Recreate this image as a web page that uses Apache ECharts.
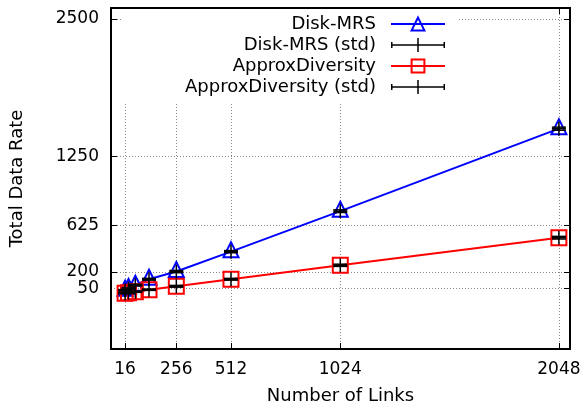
<!DOCTYPE html>
<html>
<head>
<meta charset="utf-8">
<script src="https://cdn.jsdelivr.net/npm/echarts@6/dist/echarts.min.js"></script>
<style>
  html, body { margin: 0; padding: 0; background: #fff; }
  #chartBox { width: 586px; height: 414px; }
</style>
</head>
<body>
<div id="chartBox"></div>
<script>
// number of links (x) and measured rates
var links = [16, 32, 64, 128, 256, 512, 1024, 2048];
var diskMrs = [34, 50, 80, 134, 204, 385, 753, 1503];
var diskMrsStd = [6, 6, 8, 8, 10, 10, 12, 14];
var approxDiv = [6, 12, 21, 39, 70, 134, 261, 512];
var approxDivStd = [4, 5, 6, 6, 8, 8, 10, 12];

var xTicks = [16, 256, 512, 1024, 2048];
var yTicks = [50, 200, 625, 1250, 2500];

var font = 'DejaVu Sans';

function pairs(ys) {
    return links.map(function (x, i) { return [x, ys[i]]; });
}
function triples(ys, ss) {
    return links.map(function (x, i) { return [x, ys[i], ss[i]]; });
}

// gnuplot style yerrorbars: vertical bar, caps, and a "+" at the point
function errBar(params, api) {
    var x = api.value(0), y = api.value(1), s = api.value(2);
    var c = api.coord([x, y]);
    var lo = api.coord([x, y - s]);
    var hi = api.coord([x, y + s]);
    var st = { stroke: '#000', lineWidth: 1.5 };
    return {
        type: 'group',
        children: [
            { type: 'line', shape: { x1: lo[0], y1: lo[1], x2: hi[0], y2: hi[1] }, style: st },
            { type: 'line', shape: { x1: lo[0] - 7, y1: lo[1], x2: lo[0] + 7, y2: lo[1] }, style: st },
            { type: 'line', shape: { x1: hi[0] - 7, y1: hi[1], x2: hi[0] + 7, y2: hi[1] }, style: st },
            { type: 'line', shape: { x1: c[0] - 7, y1: c[1], x2: c[0] + 7, y2: c[1] }, style: st },
            { type: 'line', shape: { x1: c[0], y1: c[1] - 7, x2: c[0], y2: c[1] + 7 }, style: st }
        ]
    };
}

var stdIcon = 'path://M0,7.25H54V8.75H0Z M0,5H1.5V11H0Z M52.5,5H54V11H52.5Z M26.25,1H27.75V15H26.25Z';

var myChart = echarts.init(document.getElementById('chartBox'));

var mirror = {
    axisLine: { show: true, onZero: false, lineStyle: { color: '#000', width: 2 } },
    axisLabel: { show: false },
    splitLine: { show: false }
};

function plain(v) { return String(v); }

var yLabelStyle = { formatter: plain, hideOverlap: false, margin: 12, fontFamily: font, fontSize: 17, color: '#000' };

myChart.setOption({
    animation: false,
    textStyle: { fontFamily: font },
    grid: { left: 111, right: 16, top: 8, bottom: 65 },
    legend: {
        orient: 'vertical',
        align: 'right',
        right: 128,
        top: 9,
        padding: [6, 12, 8, 62],
        backgroundColor: '#fff',
        itemWidth: 54,
        itemHeight: 16,
        itemGap: 3,
        textStyle: { fontFamily: font, fontSize: 18, color: '#000', padding: [0, 10, 0, 0] },
        data: [
            { name: 'Disk-MRS' },
            { name: 'Disk-MRS (std)', icon: stdIcon },
            { name: 'ApproxDiversity' },
            { name: 'ApproxDiversity (std)', icon: stdIcon }
        ]
    },
    xAxis: [
        {
            type: 'value',
            min: -50,
            max: 2100,
            name: 'Number of Links',
            nameLocation: 'middle',
            nameGap: 38,
            nameTextStyle: { fontFamily: font, fontSize: 18, color: '#000' },
            axisLine: { onZero: false, lineStyle: { color: '#000', width: 2 } },
            axisTick: { inside: true, length: 6, customValues: xTicks, lineStyle: { color: '#000', width: 1 } },
            axisLabel: { customValues: xTicks, formatter: plain, hideOverlap: false, margin: 12, fontFamily: font, fontSize: 17, color: '#000' },
            splitLine: { show: true, lineStyle: { color: '#888', type: [1, 2], width: 1 } }
        },
        Object.assign({
            type: 'value', position: 'top', min: -50, max: 2100,
            axisTick: { inside: true, length: 6, customValues: xTicks, lineStyle: { color: '#000', width: 1 } }
        }, mirror)
    ],
    yAxis: [
        {
            type: 'value',
            min: -500,
            max: 2600,
            name: 'Total Data Rate',
            nameLocation: 'middle',
            nameRotate: 90,
            nameGap: 85,
            nameTextStyle: { fontFamily: font, fontSize: 18, color: '#000' },
            axisLine: { show: true, onZero: false, lineStyle: { color: '#000', width: 2 } },
            axisTick: { show: true, inside: true, length: 6, customValues: yTicks, lineStyle: { color: '#000', width: 1 } },
            axisLabel: Object.assign({ customValues: yTicks }, yLabelStyle),
            splitLine: { show: true, lineStyle: { color: '#888', type: [1, 2], width: 1 } }
        },
        Object.assign({
            type: 'value', position: 'right', min: -500, max: 2600,
            axisTick: { show: true, inside: true, length: 6, customValues: yTicks, lineStyle: { color: '#000', width: 1 } }
        }, mirror),
        {
            // carries the lowest tick label, which the main axis drops as overlapping
            type: 'value', position: 'left', min: -500, max: 2600,
            axisLine: { show: false },
            axisTick: { show: false },
            splitLine: { show: false },
            axisLabel: Object.assign({ customValues: yTicks.slice(0, 1), showMinLabel: true }, yLabelStyle)
        }
    ],
    series: [
        {
            name: 'Disk-MRS',
            type: 'line',
            data: pairs(diskMrs),
            symbol: 'triangle',
            symbolSize: 15,
            symbolOffset: [0, -2],
            color: '#0000ff',
            lineStyle: { color: '#0000ff', width: 2 },
            itemStyle: { color: 'rgba(255,255,255,0)', borderColor: '#0000ff', borderWidth: 2 },
            z: 2
        },
        {
            name: 'Disk-MRS (std)',
            type: 'custom',
            data: triples(diskMrs, diskMrsStd),
            renderItem: errBar,
            itemStyle: { color: '#000' },
            z: 4
        },
        {
            name: 'ApproxDiversity',
            type: 'line',
            data: pairs(approxDiv),
            symbol: 'rect',
            symbolSize: 15,
            color: '#ff0000',
            lineStyle: { color: '#ff0000', width: 2 },
            itemStyle: { color: 'rgba(255,255,255,0)', borderColor: '#ff0000', borderWidth: 2 },
            z: 2
        },
        {
            name: 'ApproxDiversity (std)',
            type: 'custom',
            data: triples(approxDiv, approxDivStd),
            renderItem: errBar,
            itemStyle: { color: '#000' },
            z: 4
        }
    ]
});
</script>
</body>
</html>
